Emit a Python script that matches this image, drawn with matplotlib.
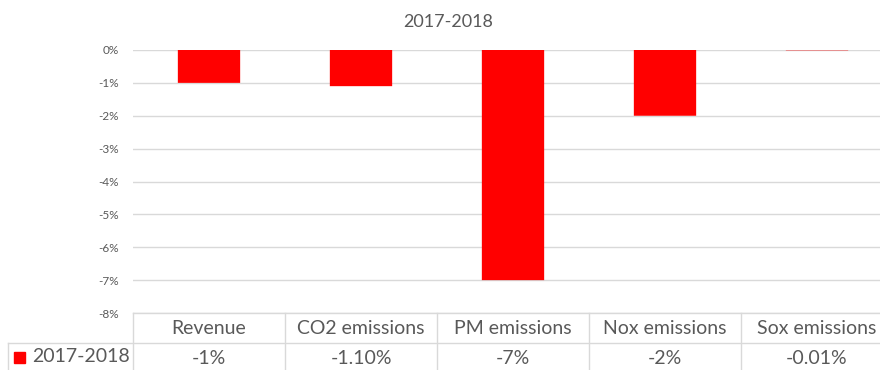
import matplotlib
matplotlib.use("Agg")
import matplotlib.pyplot as plt
import matplotlib.transforms as mtransforms
from matplotlib.patches import Rectangle
from matplotlib.ticker import FuncFormatter

# data: year-on-year change, in percent
categories = ["Revenue", "CO2 emissions", "PM emissions", "Nox emissions", "Sox emissions"]
changes = [-1, -1.10, -7, -2, -0.01]
decimals = [0, 2, 0, 0, 2]
series_name = "2017-2018"

plt.rcParams["font.family"] = ["Lato", "DejaVu Sans"]
plt.rcParams["axes.unicode_minus"] = False

W, H = 880, 370
fig = plt.figure(figsize=(W / 100, H / 100), dpi=100)

red = "#ff0000"
grid_c = "#d9d9d9"
text_c = "#595959"

# plot area in pixels
left, right, top, bottom = 133, 893, 50, 313
ax = fig.add_axes([left / W, 1 - bottom / H, (right - left) / W, (bottom - top) / H])
ax.set_xlim(-0.5, len(categories) - 0.5)
ax.set_ylim(-8, 0)

xs = list(range(len(categories)))
# snap off so the tiny Sox bar still shows as a faint line
ax.bar(xs, changes, width=0.41, color=red, zorder=3, snap=False)

ax.set_yticks(range(-8, 1))
ax.yaxis.set_major_formatter(FuncFormatter(lambda v, p: f"{v:.0f}%"))
ax.tick_params(axis="y", length=0, labelsize=8.5, labelcolor=text_c, pad=10)
ax.set_xticks([])
ax.grid(axis="y", color=grid_c, lw=1, zorder=0)
for s in ax.spines.values():
    s.set_visible(False)

fig.text(448 / W, 1 - 22 / H, series_name, ha="center", va="center",
         fontsize=13, color=text_c)

# data table under the plot
tr = mtransforms.blended_transform_factory(ax.transData, fig.transFigure)
fy = lambda py: 1 - py / H
fx = lambda px: px / W
row1, row2, row_end = 313, 343, 371

line_kw = dict(color=grid_c, lw=1, clip_on=False)
fig.add_artist(plt.Line2D([fx(left), 1], [fy(row1), fy(row1)], **line_kw))
fig.add_artist(plt.Line2D([fx(8), 1], [fy(row2), fy(row2)], **line_kw))
fig.add_artist(plt.Line2D([fx(8), fx(8)], [fy(row2), fy(row_end)], **line_kw))
for i in range(len(categories)):
    x0 = i - 0.5
    ax.add_artist(plt.Line2D([x0, x0], [fy(row1), fy(row_end)], transform=tr, **line_kw))

for i, (cat, v, d) in enumerate(zip(categories, changes, decimals)):
    ax.text(i, fy((row1 + row2) / 2 + 1), cat, transform=tr, ha="center", va="center",
            fontsize=14, color=text_c, clip_on=False)
    ax.text(i, fy((row2 + row_end) / 2 + 1), f"{v:.{d}f}%", transform=tr, ha="center",
            va="center", fontsize=14, color=text_c, clip_on=False)

fig.add_artist(Rectangle((fx(14), fy(363)), 11 / W, 11 / H, color=red,
                         transform=fig.transFigure))
fig.text(fx(32), fy(357), series_name, ha="left", va="center", fontsize=14, color=text_c)

fig.savefig("out.png", dpi=100)
